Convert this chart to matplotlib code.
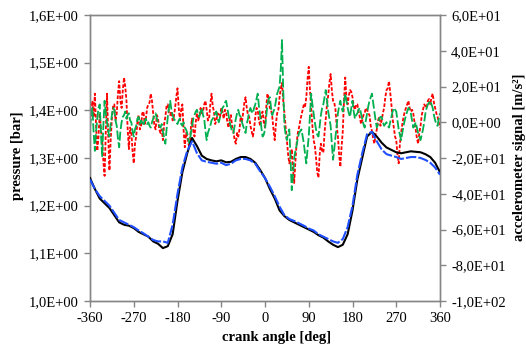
import numpy as np
import matplotlib
matplotlib.use("Agg")
import matplotlib.pyplot as plt
from matplotlib.ticker import FixedLocator, FixedFormatter

plt.rcParams['font.family'] = ['Liberation Serif', 'DejaVu Serif']

# pressure traces, sampled every 10 deg from -360 to 360
pressure_black = [1.258, 1.235, 1.215, 1.205, 1.195, 1.180, 1.165, 1.160, 1.158, 1.153,
                  1.145, 1.140, 1.135, 1.125, 1.120, 1.111, 1.115, 1.140, 1.210, 1.270,
                  1.310, 1.342, 1.325, 1.305, 1.298, 1.295, 1.293, 1.295, 1.291, 1.292,
                  1.298, 1.302, 1.302, 1.298, 1.290, 1.275, 1.258, 1.235, 1.215, 1.190,
                  1.178, 1.170, 1.165, 1.160, 1.155, 1.150, 1.145, 1.138, 1.133, 1.125,
                  1.118, 1.113, 1.118, 1.140, 1.190, 1.255, 1.300, 1.345, 1.355, 1.345,
                  1.332, 1.322, 1.317, 1.312, 1.310, 1.312, 1.314, 1.313, 1.312, 1.308,
                  1.302, 1.290, 1.270]
pressure_blue = [1.255, 1.235, 1.220, 1.210, 1.200, 1.185, 1.170, 1.165, 1.160, 1.155,
                 1.148, 1.142, 1.135, 1.128, 1.125, 1.125, 1.122, 1.160, 1.225, 1.280,
                 1.315, 1.335, 1.310, 1.295, 1.292, 1.290, 1.288, 1.290, 1.285, 1.288,
                 1.295, 1.298, 1.298, 1.295, 1.288, 1.272, 1.258, 1.240, 1.220, 1.198,
                 1.180, 1.172, 1.168, 1.163, 1.158, 1.152, 1.148, 1.140, 1.135, 1.130,
                 1.125, 1.122, 1.130, 1.155, 1.200, 1.265, 1.310, 1.350, 1.355, 1.335,
                 1.318, 1.308, 1.305, 1.302, 1.298, 1.300, 1.302, 1.302, 1.300, 1.296,
                 1.290, 1.280, 1.265]

# accelerometer signals, sampled every 2.5 deg from -360 to 360
accel_red = [0, 6, 12, 3, 16, -2, -16, -8, 5, -4,
             -10, -22, -30, -5, 16, -8, -27, -10, 2, 9,
             10, 1, 5, 16, 23, 12, 8, 18, 25, 20,
             12, -4, -15, -3, -5, -16, -23, -12, -8, 0,
             4, -4, -2, 5, 6, -1, 2, 8, 10, 11,
             16, 12, 5, -2, -4, 4, 2, -4, -6, -4,
             -10, -1, 3, 9, 10, 5, 4, 6, 1, 3,
             8, 14, 19, 8, 1, 7, 10, -4, -14, -6,
             -8, -12, -14, -3, 2, -5, -8, 0, 5, 1,
             3, 8, 5, 6, 10, 12, 7, 1, 2, 10,
             16, 9, 6, -1, 1, 5, 4, 3, 8, 6,
             2, 7, 6, 0, -3, 2, 4, -3, -5, -10,
             -12, -6, -8, -4, 3, 0, 5, 11, 14, 8,
             4, 3, -2, -5, -8, -4, 3, 8, 7, 1,
             -2, 4, 6, 0, -3, 8, 16, 13, 8, 7,
             3, -4, -10, -1, 5, 7, 14, 19, 22, 12,
             5, -3, -10, -18, -23, -20, -15, -26, -34, -22,
             -12, -6, -3, 1, 4, 7, 10, 9, 14, 24,
             31, 18, 8, -2, -10, -13, -20, -28, -31, -18,
             -12, -16, -17, -6, 2, 10, 15, 22, 27, 18,
             12, 11, 7, -2, -8, -18, -25, -14, -5, 12,
             25, 14, 10, 15, 18, 17, 14, 9, 7, 10,
             10, 6, 3, -1, 1, 4, 5, 8, 7, 5,
             4, -2, -5, -9, -12, -7, -4, 1, 3, -2,
             1, 5, 8, 14, 18, 19, 23, 17, 10, 2,
             -3, -8, -10, -18, -23, -12, -6, -1, 3, 6,
             8, 10, 12, 8, 6, 7, 5, 0, -4, -9,
             -12, -6, -2, 4, 7, 10, 9, 8, 12, 13,
             10, 14, 16, 11, 8, 5, 3, 0, -3]
accel_green = [-3, 4, 8, -6, -16, -5, 2, 8, 10, -6,
               -19, -2, 12, 5, 0, -5, -8, -1, 4, 8,
               7, 1, -2, -9, -14, -5, 0, 3, 4, 6,
               2, 4, 5, 1, 0, -5, -8, -4, -2, 2,
               3, -1, 1, 0, -2, 1, 2, -1, 0, -2,
               -3, 0, 2, 4, 5, 2, 0, -2, -3, -1,
               -5, -9, -12, -4, 3, 8, 12, 7, 4, 2,
               1, 0, -1, 1, 2, -1, -2, 0, -3, -4,
               -6, -10, -12, -6, -2, 2, 4, 6, 7, 4,
               3, 6, 8, 4, 2, -5, -10, -6, -4, -2,
               1, 2, 3, 5, 6, 2, 0, 3, 5, 8,
               9, 11, 12, 8, 4, 0, -3, -5, -6, -2,
               2, 5, 7, 4, 3, 0, -2, -4, -6, -1,
               2, 6, 8, 6, 5, 8, 10, 13, 16, 9,
               4, -3, -8, -7, -4, 3, 10, 13, 14, 8,
               4, 6, 8, 12, 16, 18, 20, 30, 46, 18,
               -2, -7, -10, -6, -4, -20, -38, -30, -20, -16,
               -13, -9, -6, -5, -4, -8, -12, -18, -23, -15,
               -8, 4, 16, 10, 5, 0, -4, -7, -8, -2,
               4, 8, 10, 14, 18, 12, 6, 2, -2, -12,
               -21, -15, -8, -2, 5, 9, 12, 8, 6, 11,
               16, 12, 8, 5, 3, 8, 12, 6, 2, 4,
               5, 7, 8, 5, 2, -1, -3, 1, 5, 9,
               12, 14, 16, 11, 6, 1, -3, -1, 2, 3,
               3, 0, -2, -1, 0, -2, -3, 0, 3, 6,
               8, 7, 6, 1, -4, -7, -10, -6, -2, 1,
               4, 6, 8, 7, 5, 1, -3, -2, 0, -3,
               -6, -8, -10, -7, -4, 0, 5, 8, 10, 11,
               12, 10, 8, 4, 1, -1, -2, 2, 5]

x_ticks = [-360, -270, -180, -90, 0, 90, 180, 270, 360]
left_ticks = [1.0, 1.1, 1.2, 1.3, 1.4, 1.5, 1.6]
left_labels = ['1,0E+00', '1,1E+00', '1,2E+00', '1,3E+00', '1,4E+00', '1,5E+00', '1,6E+00']
right_ticks = [-100, -80, -60, -40, -20, 0, 20, 40, 60]
right_labels = ['-1,0E+02', '-8,0E+01', '-6,0E+01', '-4,0E+01', '-2,0E+01',
                '0,0E+00', '2,0E+01', '4,0E+01', '6,0E+01']

ang_p = np.linspace(-360, 360, len(pressure_black))
ang_a = np.linspace(-360, 360, len(accel_red))
ang_g = np.linspace(-360, 360, len(accel_green))

fig = plt.figure(figsize=(5.26, 3.5), dpi=100)
ax = fig.add_axes([90/526, 49/350, 350/526, 286/350])
ax2 = ax.twinx()

ax.plot(ang_p, pressure_black, color='black', lw=1.5, zorder=3)
ax.plot(ang_p, pressure_blue, color='#1f4fff', lw=1.5, ls=(0, (5, 1)), zorder=4)
ax2.plot(ang_a, accel_red, color='#ff0000', lw=1.3, ls=(0, (2, 1)))
ax2.plot(ang_g, accel_green, color='#00b050', lw=1.3, ls=(0, (5, 1.5)))
ax.set_zorder(ax2.get_zorder() + 1)
ax.patch.set_visible(False)

ax.set_xlim(-360, 360)
ax.set_ylim(1.0, 1.6)
ax2.set_ylim(-100, 60)
ax.xaxis.set_major_locator(FixedLocator(x_ticks))
ax.set_xticklabels([str(t) for t in x_ticks])
ax.yaxis.set_major_locator(FixedLocator(left_ticks))
ax.yaxis.set_major_formatter(FixedFormatter(left_labels))
ax2.yaxis.set_major_locator(FixedLocator(right_ticks))
ax2.yaxis.set_major_formatter(FixedFormatter(right_labels))

for a in (ax, ax2):
    for s in a.spines.values():
        s.set_color('#868686')
        s.set_linewidth(1.0)
    a.tick_params(direction='out', length=4, width=1.0, color='#868686',
                  labelsize=10.5, labelcolor='black', pad=4)

fig.text(277/526, 1 - 337/350, 'crank angle [deg]', fontsize=10.5, fontweight='bold',
         ha='center', va='center')
fig.text(18/526, 1 - 156/350, 'pressure [bar]', fontsize=10.5, fontweight='bold',
         ha='center', va='center', rotation=90)
fig.text(519/526, 1 - 157/350, 'accelerometer signal [m/s²]', fontsize=10.5,
         fontweight='bold', ha='center', va='center', rotation=90)

fig.savefig('out.png', dpi=100)
